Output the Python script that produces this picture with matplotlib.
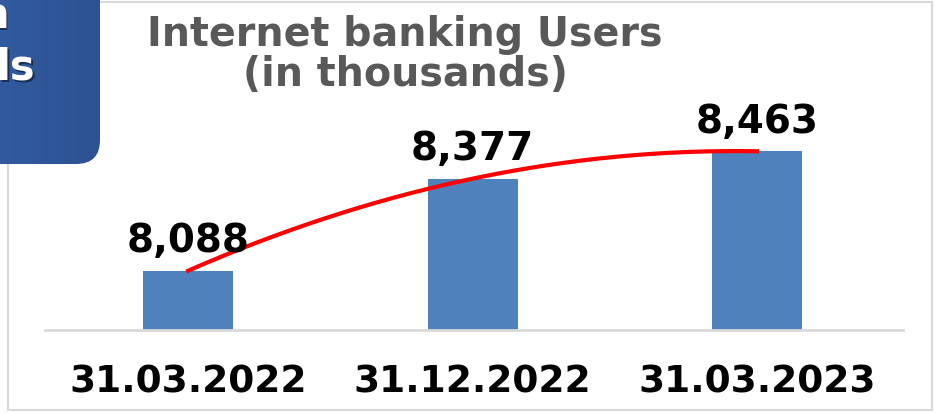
import numpy as np
import matplotlib.pyplot as plt
from matplotlib.patches import FancyBboxPatch, Rectangle
from matplotlib.colors import LinearSegmentedColormap

# chart data
dates = ["31.03.2022", "31.12.2022", "31.03.2023"]
users = [8088, 8377, 8463]

W, H = 937, 414
fig = plt.figure(figsize=(W / 100, H / 100), dpi=100)

# main plot area (pixel box -> figure fractions)
left, right, top, bottom = 45, 903, 100, 331
ax = fig.add_axes([left / W, 1 - bottom / H, (right - left) / W, (bottom - top) / H])

x = np.arange(len(users))
ax.bar(x, users, width=0.316, color="#4F81BD", zorder=2)

# smooth red trend line through the points
coef = np.polyfit(x, users, 2)
xs = np.linspace(x[0], x[-1], 200)
ax.plot(xs, np.polyval(coef, xs), color="red", linewidth=3, zorder=3)

for xi, v in zip(x, users):
    ax.annotate(f"{v:,}", (xi, v), xytext=(0, 22), textcoords="offset points",
                ha="center", va="center", fontsize=28, fontweight="bold",
                family="DejaVu Sans", color="black", zorder=4)

ax.set_ylim(7902, 8627)
ax.set_xlim(-0.503, 2.513)
ax.set_yticks([])
ax.set_xticks(x)
ax.set_xticklabels(dates, fontsize=27, fontweight="bold", family="DejaVu Sans")
ax.tick_params(axis="x", length=0, pad=24)
for s in ["top", "right", "left"]:
    ax.spines[s].set_visible(False)
ax.spines["bottom"].set_color("#D9D9D9")
ax.spines["bottom"].set_linewidth(2)
ax.patch.set_alpha(0)

fig.text(405 / W, 1 - 35 / H, "Internet banking Users", ha="center", va="center",
         fontsize=28.5, fontweight="bold", color="#595959")
fig.text(405 / W, 1 - 75 / H, "(in thousands)", ha="center", va="center",
         fontsize=28.5, fontweight="bold", color="#595959")

# overlay in pixel coords: outer frame and cut-off blue box
ov = fig.add_axes([0, 0, 1, 1], zorder=5)
ov.axis("off")
ov.patch.set_alpha(0)
ov.add_patch(Rectangle((8, 3), 924, 408, fill=False, edgecolor="#D9D9D9", linewidth=1.5))

box = FancyBboxPatch((-60, -60), 160, 225, boxstyle="round,pad=0,rounding_size=24",
                     facecolor="none", edgecolor="none")
ov.add_patch(box)
grad = np.linspace(0, 1, 100).reshape(1, -1)
cm = LinearSegmentedColormap.from_list("b", ["#3460A8", "#2D5292"])
img = ov.imshow(grad, extent=(-60, 100, 165, -60), cmap=cm, aspect="auto", zorder=1)
img.set_clip_path(box)
ov.set_xlim(0, W)
ov.set_ylim(H, 0)

for txt, xr, yb in [("n", 9, 28), ("ds", 35, 80)]:
    ov.text(xr + 1.5, yb + 1.5, txt, ha="right", va="baseline", fontsize=30,
            fontweight="bold", color="#1A2F55", zorder=2)
    ov.text(xr, yb, txt, ha="right", va="baseline", fontsize=30,
            fontweight="bold", color="white", zorder=3)

fig.savefig("out.png", dpi=100)
